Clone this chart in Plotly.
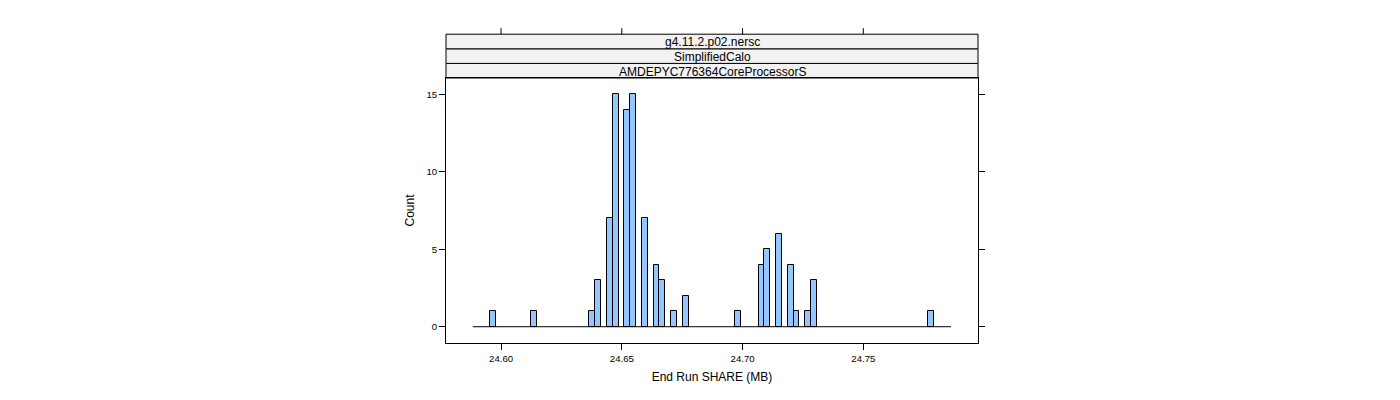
import numpy as np
import plotly.graph_objects as go

# ---- data ----
bin_start = 24.5883          # left edge of first break
bin_width = 0.002415         # width of each histogram bin
counts = [0, 0, 0, 1, 0, 0, 0, 0, 0, 0,
          1, 0, 0, 0, 0, 0, 0, 0, 0, 0,
          1, 3, 0, 7, 15, 0, 14, 15, 0, 7,
          0, 4, 3, 0, 1, 0, 2, 0, 0, 0,
          0, 0, 0, 0, 0, 1, 0, 0, 0, 4,
          5, 0, 6, 0, 4, 1, 0, 1, 3, 0,
          0, 0, 0, 0, 0, 0, 0, 0, 0, 0,
          0, 0, 0, 0, 0, 0, 0, 0, 1, 0,
          0, 0]
x_ticks = [24.60, 24.65, 24.70, 24.75]
x_ticklabels = ["24.60", "24.65", "24.70", "24.75"]
y_ticks = [0, 5, 10, 15]
strip_labels = ["AMDEPYC776364CoreProcessorS", "SimplifiedCalo", "g4.11.2.p02.nersc"]
x_title = "End Run SHARE (MB)"
y_title = "Count"

# ---- derived ----
counts = np.array(counts)
n_bins = len(counts)
edges = bin_start + bin_width * np.arange(n_bins + 1)
centers = (edges[:-1] + edges[1:]) / 2
nz = counts > 0

FONT = "Liberation Sans, Arial, sans-serif"
W, H = 1400, 400
ml, mr, mt, mb = 446, 422, 78, 57
plot_h = H - mt - mb
strip_h = 14.6 / plot_h

fig = go.Figure()
fig.add_trace(go.Scatter(
    x=[edges[0], edges[-1]], y=[0, 0], mode="lines",
    line=dict(color="black", width=1), hoverinfo="skip", showlegend=False))
fig.add_trace(go.Bar(
    x=centers[nz], y=counts[nz], width=bin_width,
    marker=dict(color="#94C6FF", line=dict(color="black", width=1)),
    showlegend=False))

shapes = []
annotations = []
for k, lab in enumerate(strip_labels):
    shapes.append(dict(type="rect", xref="paper", yref="paper",
                       x0=0, x1=1, y0=1 + k * strip_h, y1=1 + (k + 1) * strip_h,
                       fillcolor="#F2F2F2", line=dict(color="black", width=1),
                       layer="below"))
    annotations.append(dict(text=lab, xref="paper", yref="paper",
                            x=0.5, y=1 + (k + 0.5) * strip_h, showarrow=False,
                            xanchor="center", yanchor="middle", yshift=-1,
                            font=dict(family=FONT, size=12, color="black")))
top = 1 + len(strip_labels) * strip_h
for t in x_ticks:
    shapes.append(dict(type="line", xref="x", yref="paper",
                       x0=t, x1=t, y0=top, y1=top + 6 / plot_h,
                       line=dict(color="black", width=1)))

fig.update_layout(
    width=W, height=H,
    margin=dict(l=ml, r=mr, t=mt, b=mb),
    paper_bgcolor="white", plot_bgcolor="white",
    bargap=0,
    shapes=shapes, annotations=annotations,
    font=dict(family=FONT, color="black"),
    xaxis=dict(range=[24.5772, 24.7975], tickvals=x_ticks, ticktext=x_ticklabels,
               ticks="outside", ticklen=6, tickcolor="black",
               showline=True, linecolor="black", linewidth=1, mirror=True,
               showgrid=False, zeroline=False,
               tickfont=dict(family=FONT, size=9.6, color="black"),
               title=dict(text=x_title, font=dict(family=FONT, size=12, color="black"),
                          standoff=10)),
    yaxis=dict(range=[-1.05, 16.05], tickvals=y_ticks,
               ticks="outside", ticklen=6, tickcolor="black",
               showline=True, linecolor="black", linewidth=1, mirror="ticks",
               showgrid=False, zeroline=False,
               tickfont=dict(family=FONT, size=9.6, color="black"),
               title=dict(text=y_title, font=dict(family=FONT, size=12, color="black"),
                          standoff=9)),
)

fig.write_html("out.html")
